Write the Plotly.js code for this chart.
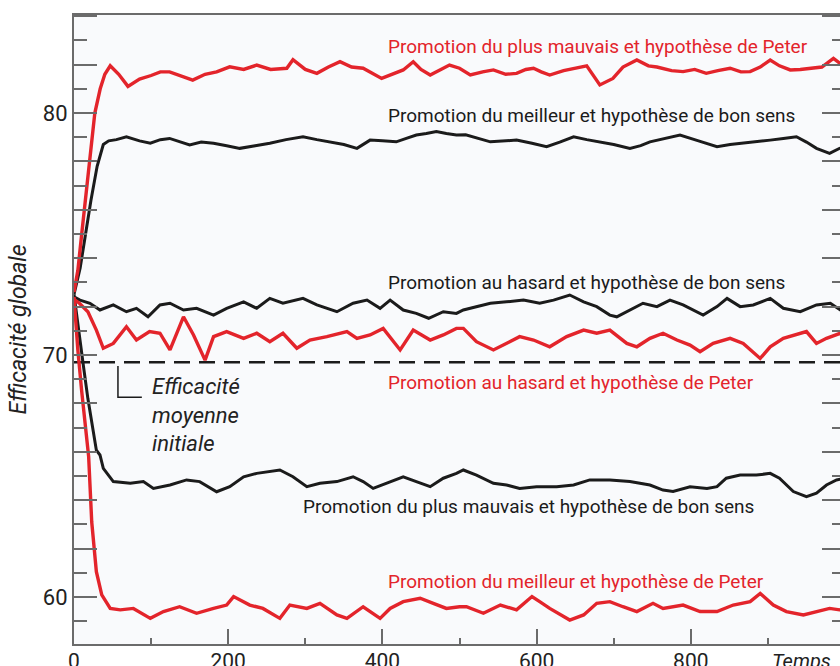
<!DOCTYPE html>
<html>
<head>
<meta charset="utf-8">
<script src="https://cdn.plot.ly/plotly-3.0.1.min.js"></script>
<style>
html,body{margin:0;padding:0;background:#fff;overflow:hidden;width:840px;height:666px;}
#chart{width:850px;height:666px;}
</style>
</head>
<body>
<div id="chart"></div>
<script>
// Promotion du plus mauvais et hypothèse de Peter (red, top)
const tWorstPeter = [0,5,10,15,20,27,34,40,47,58,70,85,100,112,124,140,154,170,185,202,220,237,255,276,284,300,315,330,345,360,375,399,413,427,440,450,462,475,487,500,514,530,544,560,574,586,596,606,617,635,652,665,682,699,712,730,745,756,775,790,805,820,835,851,865,877,890,903,915,929,942,955,970,985,1000];
const vWorstPeter = [72.6,73.5,75.0,76.4,78.0,80.0,81.0,81.6,81.95,81.6,81.1,81.4,81.55,81.7,81.7,81.5,81.36,81.6,81.7,81.91,81.8,81.98,81.8,81.85,82.2,81.8,81.64,81.9,82.12,81.9,81.85,81.43,81.6,81.78,82.12,81.8,81.57,81.8,81.98,81.85,81.57,81.7,81.78,81.6,81.64,81.8,81.85,81.7,81.57,81.75,81.85,81.95,81.16,81.43,81.9,82.19,81.95,81.9,81.75,81.71,81.8,81.64,81.75,81.85,81.7,81.71,81.9,82.19,81.95,81.78,81.8,81.85,81.9,82.26,81.9];

// Promotion du meilleur et hypothèse de bon sens (black)
const tBestSense = [0,8,15,22,30,38,45,55,68,85,99,112,124,137,150,165,181,198,215,235,254,275,297,315,332,350,367,384,400,418,431,444,457,470,483,496,508,518,530,540,557,574,594,613,630,648,665,682,700,721,735,747,766,786,810,834,851,868,885,903,920,937,950,963,980,993,1000];
const vBestSense = [72.5,73.6,75.0,76.4,77.8,78.7,78.85,78.9,79.02,78.85,78.75,78.9,78.95,78.8,78.68,78.8,78.75,78.65,78.54,78.65,78.75,78.9,79.02,78.9,78.81,78.7,78.54,78.88,78.85,78.81,78.95,79.09,79.15,79.23,79.15,79.09,79.1,79.02,78.9,78.81,78.85,78.88,78.75,78.61,78.8,79.02,78.9,78.81,78.7,78.54,78.65,78.81,78.95,79.09,78.85,78.61,78.7,78.75,78.8,78.88,78.95,79.02,78.8,78.54,78.33,78.54,78.6];

// Promotion au hasard et hypothèse de bon sens (black)
const tRandSense = [0,7.8,20.7,33.7,51,68,81,96,111.5,124.5,142,159,181,198,220,237,254,271,297,315,341,362,380,397,410,427,444,460,479,496,505,522,540,561,583,604,622,643,661,678,695,704,717,738,756,773,790,816,834,847,864,881,903,920,942,963,981,994,1000];
const vRandSense = [72.4,72.27,72.14,71.86,72.07,71.79,71.93,71.58,72.07,72.14,71.86,71.93,71.65,71.93,72.2,71.93,72.34,72.14,72.34,72.07,71.79,72.14,72.27,71.93,72.27,71.86,71.72,71.52,71.79,71.72,71.86,72.0,72.14,72.2,72.27,72.14,72.27,72.48,72.2,72.0,71.65,71.58,71.79,72.14,72.0,72.27,72.07,71.65,72.0,72.34,72.0,72.07,72.34,71.93,71.79,72.07,72.14,71.86,71.9];

// Promotion au hasard et hypothèse de Peter (red)
const tRandPeter = [0,7,18,29,38,51,68,81,98,111.5,124.5,142,155,170,181,198,220,237,254,271,289,306,328,354,367,384,401,423,440,462,479,496,505,522,544,561,578,596,617,639,661,678,695,717,730,747,764,782,799,812,829,851,868,890,903,920,937,950,963,976,994,1000];
const vRandPeter = [72.3,72.14,71.79,71.03,70.28,70.48,71.17,70.62,70.97,70.9,70.21,71.58,70.83,69.79,70.76,70.97,70.69,70.9,70.55,70.9,70.28,70.62,70.76,70.97,70.69,70.83,71.1,70.21,71.03,70.62,70.83,71.1,71.1,70.55,70.21,70.48,70.76,70.62,70.34,70.76,71.03,70.9,71.03,70.48,70.34,70.69,70.9,70.62,70.41,70.14,70.48,70.69,70.48,69.86,70.34,70.69,70.83,70.97,70.48,70.69,70.9,70.8];

// Promotion du plus mauvais et hypothèse de bon sens (black)
const tWorstSense = [0,5.6,12,18,24,29,33.7,38,51,73,90,103,124.5,146,163,185,202,220,237,254,267,284,302,319,341,362,375,388,410,427,444,462,479,496,505,522,544,561,578,600,626,648,669,695,721,747,764,777,799,821,834,846,864,885,903,915,933,950,963,976,989,1000];
const vWorstSense = [72.5,71.03,69.6,68.2,67.0,66.07,65.87,65.32,64.77,64.7,64.77,64.49,64.63,64.84,64.77,64.35,64.56,64.97,65.11,65.18,65.25,64.97,64.56,64.7,64.77,64.97,64.77,64.49,64.77,64.97,64.77,64.56,64.91,65.11,65.25,65.04,64.7,64.63,64.49,64.56,64.56,64.63,64.84,64.84,64.77,64.63,64.42,64.36,64.56,64.49,64.56,64.91,65.04,65.04,65.11,64.91,64.36,64.15,64.29,64.63,64.84,64.9];

// Promotion du meilleur et hypothèse de Peter (red, bottom)
const tBestPeter = [0,5,10,15,19,23,29,36,47,60,77,99,116,137,159,181,198,207,228,245,267,280,302,319,341,354,375,397,410,427,449,466,483,500,509,531,553,574,594,604,617,643,661,678,695,712,730,751,764,790,812,834,855,877,890,907,924,946,963,980,993,1000];
const vBestPeter = [72.4,70.2,68.5,67.0,65.8,63.1,61.05,60.09,59.53,59.47,59.53,59.12,59.4,59.6,59.33,59.53,59.67,60.02,59.67,59.53,59.12,59.67,59.53,59.74,59.26,59.12,59.6,59.12,59.53,59.81,59.95,59.74,59.53,59.6,59.6,59.33,59.67,59.47,60.02,59.81,59.53,59.05,59.26,59.74,59.81,59.6,59.4,59.74,59.53,59.67,59.4,59.4,59.67,59.81,60.15,59.67,59.4,59.26,59.4,59.53,59.47,59.5];

const initialMean = 69.7;
const yTickVals = [58,60,62,64,66,68,70,72,74,76,78,80,82,84];
const yTickText = ['','60','','','','','70','','','','','80','',''];
const xTickVals = [0,200,400,600,800];
const xTickText = ['0','200','400','600','800'];

const RED = '#e3242b';
const BLACK = '#1b1b1b';
const FONT = 'Roboto, "Noto Sans", sans-serif';

function line(x, y, color, w, name) {
  return {x: x, y: y, type: 'scatter', mode: 'lines', name: name,
          line: {color: color, width: w}, hoverinfo: 'skip'};
}

const traces = [
  {x: [0, 1000], y: [initialMean, initialMean], type: 'scatter', mode: 'lines',
   line: {color: BLACK, width: 2.5, dash: '16px,9px'}, name: 'Efficacité moyenne initiale', hoverinfo: 'skip'},
  line(tWorstSense, vWorstSense, BLACK, 3, 'Promotion du plus mauvais et hypothèse de bon sens'),
  line(tBestSense, vBestSense, BLACK, 3, 'Promotion du meilleur et hypothèse de bon sens'),
  line(tRandSense, vRandSense, BLACK, 3, 'Promotion au hasard et hypothèse de bon sens'),
  line(tRandPeter, vRandPeter, RED, 3.4, 'Promotion au hasard et hypothèse de Peter'),
  line(tBestPeter, vBestPeter, RED, 3.4, 'Promotion du meilleur et hypothèse de Peter'),
  line(tWorstPeter, vWorstPeter, RED, 3.4, 'Promotion du plus mauvais et hypothèse de Peter')
];

function lab(text, x, y, color) {
  return {text: text, x: x, y: y, xref: 'x', yref: 'y', xanchor: 'left', yanchor: 'middle',
          showarrow: false, font: {family: FONT, size: 19, color: color}};
}

const layout = {
  width: 850, height: 666,
  margin: {l: 74, r: 5, t: 15, b: 22},
  paper_bgcolor: '#ffffff',
  plot_bgcolor: '#f9fafc',
  showlegend: false,
  font: {family: FONT, color: '#222'},
  xaxis: {
    range: [0, 1000], showgrid: false, zeroline: false,
    showline: true, mirror: true, linecolor: '#6b6b6b', linewidth: 2,
    tickmode: 'array', tickvals: xTickVals, ticktext: xTickText,
    ticks: 'inside', ticklen: 15, tickwidth: 2, tickcolor: '#6b6b6b',
    minor: {dtick: 100, ticks: 'inside', ticklen: 6, tickwidth: 2, tickcolor: '#6b6b6b'},
    tickfont: {family: FONT, size: 21, color: '#222'},
    ticklabelstandoff: -3,
    fixedrange: true
  },
  xaxis2: {
    overlaying: 'x', side: 'top', range: [0, 1000], showgrid: false, zeroline: false,
    showline: false, tickmode: 'linear', tick0: 0, dtick: 100,
    ticks: 'inside', ticklen: 10, tickwidth: 2, tickcolor: '#6b6b6b', showticklabels: false
  },
  yaxis: {
    range: [58.06, 84.05], showgrid: false, zeroline: false,
    showline: true, mirror: 'ticks', linecolor: '#6b6b6b', linewidth: 2,
    tickmode: 'array', tickvals: yTickVals, ticktext: yTickText,
    ticks: 'inside', ticklen: 23, tickwidth: 2, tickcolor: '#6b6b6b',
    minor: {dtick: 1, ticks: 'inside', ticklen: 13, tickwidth: 2, tickcolor: '#6b6b6b'},
    tickfont: {family: FONT, size: 22, color: '#222'},
    title: {text: 'Efficacité globale', font: {family: FONT, size: 23, color: '#222', style: 'italic'}, standoff: 10},
    automargin: false, fixedrange: true
  },
  shapes: [
    {type: 'path', xref: 'x', yref: 'y', path: 'M 57 69.55 L 57 68.26 L 88 68.26',
     line: {color: BLACK, width: 1.5}}
  ],
  annotations: [
    lab('Promotion du plus mauvais et hypothèse de Peter', 405, 82.73, RED),
    lab('Promotion du meilleur et hypothèse de bon sens', 405, 79.88, BLACK),
    lab('Promotion au hasard et hypothèse de bon sens', 405, 72.98, BLACK),
    lab('Promotion au hasard et hypothèse de Peter', 405, 68.88, RED),
    lab('Promotion du plus mauvais et hypothèse de bon sens', 295, 63.76, BLACK),
    lab('Promotion du meilleur et hypothèse de Peter', 405, 60.66, RED),
    {text: 'Efficacité<br>moyenne<br>initiale', x: 98, y: 67.52, xref: 'x', yref: 'y',
     xanchor: 'left', yanchor: 'middle', align: 'left', showarrow: false,
     font: {family: FONT, size: 22, color: '#222', style: 'italic'}},
    {text: 'Temps', x: 1, y: -0.005, xref: 'paper', yref: 'paper', xanchor: 'right', yanchor: 'top',
     xshift: -12, showarrow: false, font: {family: FONT, size: 20, color: '#222', style: 'italic'}}
  ]
};

Plotly.newPlot('chart', traces, layout, {staticPlot: true, displayModeBar: false});
</script>
</body>
</html>
